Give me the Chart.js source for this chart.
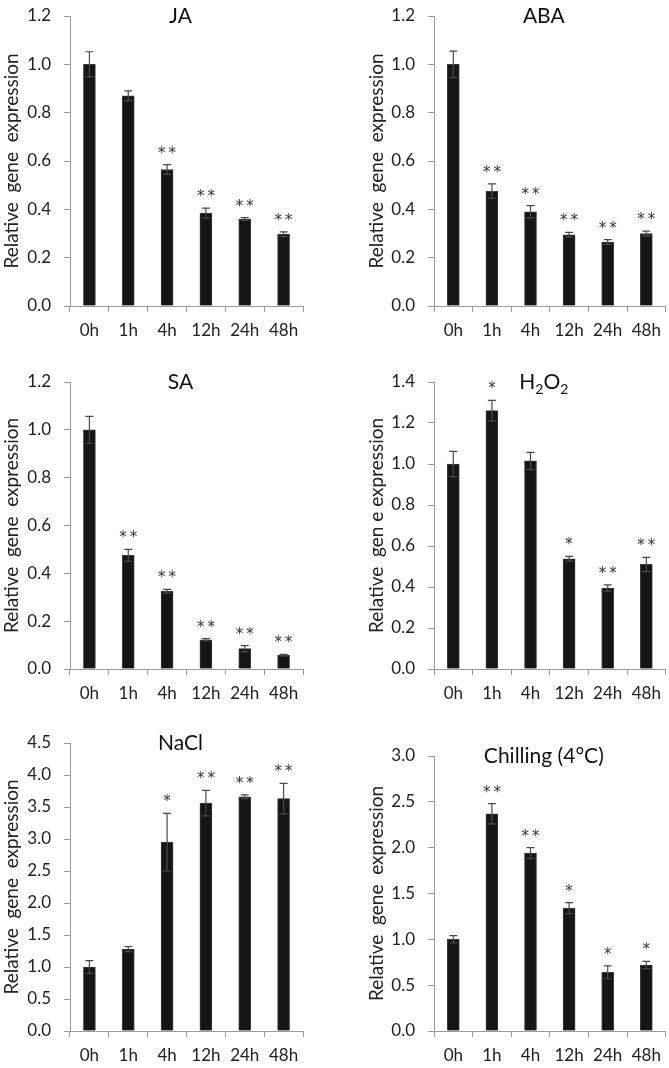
<!DOCTYPE html>
<html>
<head>
<meta charset="utf-8">
<script src="https://cdn.jsdelivr.net/npm/chart.js@4.4.1/dist/chart.umd.min.js"></script>
<style>
  html, body { margin: 0; padding: 0; background: #fff; }
  #wrap { position: relative; width: 669px; height: 1068px; overflow: hidden; }
  #wrap canvas { position: absolute; }
</style>
</head>
<body>
<div id="wrap"></div>
<script>
"use strict";

// ---------- data ----------
const hours = ["0h", "1h", "4h", "12h", "24h", "48h"];

const jaMean = [1.0, 0.87, 0.565, 0.385, 0.36, 0.297];
const jaErr = [0.052, 0.02, 0.02, 0.02, 0.006, 0.01];
const jaSig = ["", "", "**", "**", "**", "**"];

const abaMean = [1.0, 0.475, 0.39, 0.295, 0.265, 0.30];
const abaErr = [0.055, 0.03, 0.025, 0.01, 0.01, 0.01];
const abaSig = ["", "**", "**", "**", "**", "**"];

const saMean = [1.0, 0.475, 0.325, 0.122, 0.085, 0.058];
const saErr = [0.056, 0.025, 0.008, 0.005, 0.013, 0.003];
const saSig = ["", "**", "**", "**", "**", "**"];

const h2o2Mean = [1.0, 1.26, 1.015, 0.537, 0.395, 0.51];
const h2o2Err = [0.062, 0.05, 0.042, 0.012, 0.015, 0.035];
const h2o2Sig = ["", "*", "", "*", "**", "**"];

const naclMean = [1.0, 1.28, 2.95, 3.56, 3.66, 3.63];
const naclErr = [0.1, 0.04, 0.45, 0.2, 0.03, 0.24];
const naclSig = ["", "", "*", "**", "**", "**"];

const chillMean = [1.0, 2.37, 1.94, 1.34, 0.64, 0.72];
const chillErr = [0.04, 0.11, 0.06, 0.06, 0.07, 0.04];
const chillSig = ["", "**", "**", "*", "*", "*"];

const yTitle = "Relative  gene  expression";
const yTitleH2O2 = "Relative  gen e expression";

// ---------- panels ----------
const panels = [
  { title: "JA", mean: jaMean, err: jaErr, sig: jaSig, max: 1.2, step: 0.2, ytitle: yTitle,
    left: 0, top: 0, w: 335, h: 345, padTop: 16, xH: 39 },
  { title: "ABA", mean: abaMean, err: abaErr, sig: abaSig, max: 1.2, step: 0.2, ytitle: yTitle,
    left: 335, top: 0, w: 334, h: 345, padTop: 16, xH: 39 },
  { title: "SA", mean: saMean, err: saErr, sig: saSig, max: 1.2, step: 0.2, ytitle: yTitle,
    left: 0, top: 345, w: 335, h: 365, padTop: 37, xH: 41 },
  { title: "H2O2", mean: h2o2Mean, err: h2o2Err, sig: h2o2Sig, max: 1.4, step: 0.2, ytitle: yTitleH2O2,
    left: 335, top: 345, w: 334, h: 365, padTop: 37, xH: 41 },
  { title: "NaCl", mean: naclMean, err: naclErr, sig: naclSig, max: 4.5, step: 0.5, ytitle: yTitle,
    left: 0, top: 710, w: 335, h: 358, padTop: 33, xH: 37 },
  { title: "Chilling (4\u00B0C)", mean: chillMean, err: chillErr, sig: chillSig, max: 3.0, step: 0.5, ytitle: yTitle,
    left: 335, top: 710, w: 334, h: 358, padTop: 46, xH: 37 },
];

const FONT = "Lato";
const AXIS_GREY = "#9a9a9a";

Chart.defaults.font.family = FONT;
Chart.defaults.font.size = 17;
Chart.defaults.color = "#222";

// error bars + asterisks
const errorBarPlugin = {
  id: "errorBars",
  afterDatasetsDraw(chart, args, opts) {
    const ctx = chart.ctx;
    const y = chart.scales.y;
    const meta = chart.getDatasetMeta(0);
    ctx.save();
    meta.data.forEach((bar, i) => {
      const v = opts.mean[i];
      const e = opts.err[i];
      const yTop = y.getPixelForValue(v + e);
      const yBot = y.getPixelForValue(v - e);
      ctx.strokeStyle = "#4a4a4a";
      ctx.lineWidth = 1.2;
      ctx.beginPath();
      ctx.moveTo(bar.x, yTop);
      ctx.lineTo(bar.x, yBot);
      ctx.moveTo(bar.x - 4, yTop);
      ctx.lineTo(bar.x + 4, yTop);
      ctx.moveTo(bar.x - 4, yBot);
      ctx.lineTo(bar.x + 4, yBot);
      ctx.stroke();

      const s = opts.sig[i];
      if (s) {
        ctx.fillStyle = "#333";
        ctx.font = "15px 'DejaVu Sans'";
        ctx.textAlign = "center";
        ctx.textBaseline = "alphabetic";
        ctx.fillText(s.split("").join("\u2009"), bar.x, yTop - 7);
      }
    });
    ctx.restore();
  },
};

// panel title, digits after a letter become subscripts (H2O2)
const panelTitlePlugin = {
  id: "panelTitle",
  afterDraw(chart, args, opts) {
    const ctx = chart.ctx;
    const area = chart.chartArea;
    const parts = [];
    const re = /([A-Za-z])(\d)/g;
    const text = opts.text;
    let last = 0, m;
    while ((m = re.exec(text)) !== null) {
      parts.push({ t: text.slice(last, m.index + 1), sub: false });
      parts.push({ t: m[2], sub: true });
      last = m.index + 2;
    }
    parts.push({ t: text.slice(last), sub: false });

    const big = "21px " + FONT;
    const small = "14px " + FONT;
    ctx.save();
    let total = 0;
    parts.forEach((p) => {
      ctx.font = p.sub ? small : big;
      p.w = ctx.measureText(p.t).width;
      total += p.w;
    });
    let x = (area.left + area.right) / 2 - 6 - total / 2;
    const yMid = area.top;
    ctx.fillStyle = "#111";
    ctx.textAlign = "left";
    ctx.textBaseline = "middle";
    parts.forEach((p) => {
      ctx.font = p.sub ? small : big;
      ctx.fillText(p.t, x, p.sub ? yMid + 7 : yMid);
      x += p.w;
    });
    ctx.restore();
  },
};

const wrap = document.getElementById("wrap");

panels.forEach((p) => {
  const canvas = document.createElement("canvas");
  canvas.width = p.w;
  canvas.height = p.h;
  canvas.style.left = p.left + "px";
  canvas.style.top = p.top + "px";
  canvas.style.width = p.w + "px";
  canvas.style.height = p.h + "px";
  wrap.appendChild(canvas);

  const isLeft = p.left === 0;
  const yWidth = isLeft ? 70 : 69;

  new Chart(canvas.getContext("2d"), {
    type: "bar",
    data: {
      labels: hours,
      datasets: [
        {
          data: p.mean,
          backgroundColor: "#151515",
          borderColor: "#3c3c3c",
          borderWidth: 1,
          barThickness: 12,
        },
      ],
    },
    options: {
      responsive: false,
      animation: false,
      layout: {
        padding: {
          left: isLeft ? 0 : 30,
          right: isLeft ? 32 : 1,
          top: p.padTop,
          bottom: 0,
        },
      },
      plugins: {
        legend: { display: false },
        tooltip: { enabled: false },
        errorBars: { mean: p.mean, err: p.err, sig: p.sig },
        panelTitle: { text: p.title },
      },
      scales: {
        x: {
          afterFit: (s) => { s.height = p.xH; },
          grid: { drawOnChartArea: false, color: AXIS_GREY, tickLength: 6, offset: true },
          border: { color: AXIS_GREY, width: 1 },
          ticks: { padding: 8, color: "#222", font: { size: 17 } },
        },
        y: {
          min: 0,
          max: p.max,
          afterFit: (s) => {
            s.width = yWidth;
            // keep the plot top where the layout padding puts it
            s.paddingTop = 0;
            s.paddingBottom = 0;
          },
          grid: { drawOnChartArea: false, color: AXIS_GREY, tickLength: 6 },
          border: { color: AXIS_GREY, width: 1 },
          ticks: {
            stepSize: p.step,
            padding: 13,
            color: "#222",
            font: { size: 17 },
            callback: (v) => Number(v).toFixed(1),
          },
          title: {
            display: true,
            text: p.ytitle,
            color: "#222",
            font: { size: 19 },
            padding: { top: 0, bottom: 0 },
          },
        },
      },
    },
    plugins: [errorBarPlugin, panelTitlePlugin],
  });
});
</script>
</body>
</html>
